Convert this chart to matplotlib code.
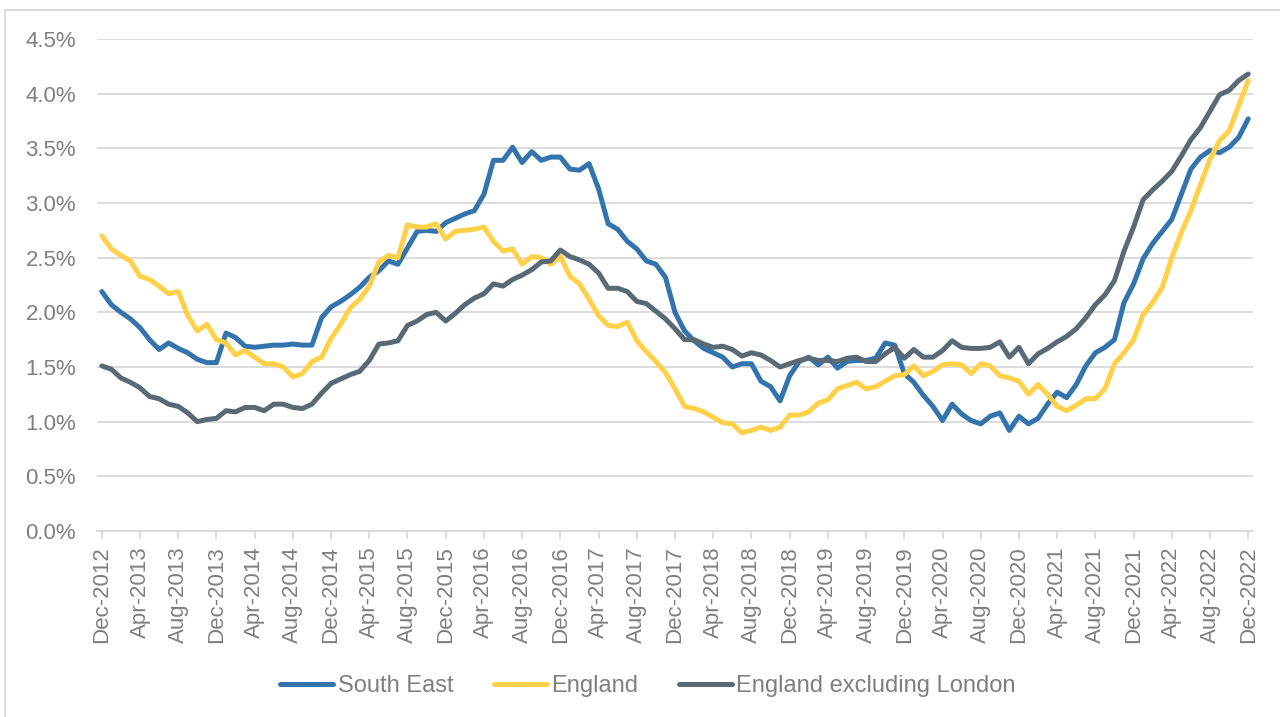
import matplotlib
matplotlib.use("Agg")
import matplotlib.pyplot as plt
from matplotlib.lines import Line2D
from matplotlib.ticker import FuncFormatter
import pandas as pd

plt.rcParams['font.family'] = ['Liberation Sans', 'DejaVu Sans']

# Monthly series, Dec 2012 to Dec 2022
months = pd.date_range('2012-12-01', '2022-12-01', freq='MS')

south_east = [
    2.19, 2.07, 2.00, 1.94, 1.86, 1.75, 1.66, 1.72, 1.67, 1.63, 1.57, 1.54,
    1.54, 1.81, 1.77, 1.69, 1.68, 1.69, 1.70, 1.70, 1.71, 1.70, 1.70, 1.95,
    2.05, 2.10, 2.16, 2.23, 2.32, 2.38, 2.47, 2.44, 2.59, 2.74, 2.75, 2.74,
    2.82, 2.86, 2.90, 2.93, 3.08, 3.39, 3.39, 3.51, 3.37, 3.47, 3.39, 3.42,
    3.42, 3.31, 3.30, 3.36, 3.13, 2.81, 2.76, 2.65, 2.58, 2.47, 2.44, 2.32,
    2.00, 1.83, 1.74, 1.67, 1.63, 1.59, 1.50, 1.53, 1.53, 1.37, 1.32, 1.19,
    1.42, 1.55, 1.59, 1.52, 1.59, 1.49, 1.55, 1.56, 1.56, 1.58, 1.72, 1.70,
    1.44, 1.36, 1.24, 1.14, 1.01, 1.16, 1.07, 1.01, 0.98, 1.05, 1.08, 0.92,
    1.05, 0.98, 1.03, 1.16, 1.27, 1.22, 1.34, 1.51, 1.63, 1.68, 1.75, 2.09,
    2.26, 2.49, 2.63, 2.74, 2.85, 3.08, 3.31, 3.42, 3.48, 3.46, 3.51, 3.60,
    3.77,
]

england = [
    2.70, 2.58, 2.52, 2.47, 2.33, 2.30, 2.24, 2.17, 2.19, 1.97, 1.83, 1.89,
    1.75, 1.72, 1.61, 1.65, 1.59, 1.53, 1.53, 1.50, 1.41, 1.44, 1.55, 1.59,
    1.76, 1.89, 2.04, 2.12, 2.24, 2.46, 2.52, 2.50, 2.80, 2.78, 2.78, 2.81,
    2.67, 2.74, 2.75, 2.76, 2.78, 2.65, 2.56, 2.58, 2.44, 2.51, 2.50, 2.44,
    2.51, 2.33, 2.26, 2.12, 1.97, 1.88, 1.87, 1.91, 1.74, 1.64, 1.55, 1.45,
    1.30, 1.14, 1.12, 1.09, 1.04, 0.99, 0.98, 0.90, 0.92, 0.95, 0.92, 0.95,
    1.06, 1.06, 1.09, 1.17, 1.20, 1.30, 1.33, 1.36, 1.30, 1.32, 1.37, 1.42,
    1.43, 1.51, 1.42, 1.46, 1.52, 1.53, 1.52, 1.44, 1.53, 1.51, 1.42, 1.40,
    1.37, 1.25, 1.34, 1.25, 1.14, 1.10, 1.15, 1.21, 1.21, 1.30, 1.53, 1.63,
    1.75, 1.98, 2.09, 2.23, 2.50, 2.73, 2.93, 3.17, 3.40, 3.57, 3.66, 3.89,
    4.12,
]

england_ex_london = [
    1.51, 1.48, 1.40, 1.36, 1.31, 1.23, 1.21, 1.16, 1.14, 1.08, 1.00, 1.02,
    1.03, 1.10, 1.09, 1.13, 1.13, 1.10, 1.16, 1.16, 1.13, 1.12, 1.16, 1.26,
    1.35, 1.39, 1.43, 1.46, 1.56, 1.71, 1.72, 1.74, 1.88, 1.92, 1.98, 2.00,
    1.92, 1.99, 2.07, 2.13, 2.17, 2.26, 2.24, 2.30, 2.34, 2.39, 2.46, 2.47,
    2.57, 2.51, 2.48, 2.44, 2.36, 2.22, 2.22, 2.19, 2.10, 2.08, 2.01, 1.94,
    1.85, 1.75, 1.75, 1.71, 1.68, 1.69, 1.66, 1.60, 1.63, 1.61, 1.56, 1.50,
    1.53, 1.56, 1.58, 1.56, 1.56, 1.55, 1.58, 1.59, 1.55, 1.55, 1.62, 1.68,
    1.58, 1.66, 1.59, 1.59, 1.65, 1.74, 1.68, 1.67, 1.67, 1.68, 1.73, 1.59,
    1.68, 1.53, 1.62, 1.67, 1.73, 1.78, 1.85, 1.95, 2.07, 2.16, 2.29, 2.56,
    2.78, 3.03, 3.12, 3.20, 3.29, 3.43, 3.58, 3.69, 3.84, 3.99, 4.03, 4.12,
    4.18,
]

labels = ['South East', 'England', 'England excluding London']
colors = ['#3474AD', '#FFD048', '#5A6A74']
grey_text = '#7F7F7F'
grid_col = '#D9D9D9'

fig = plt.figure(figsize=(12.8, 7.17), dpi=100)
ax = fig.add_axes([97 / 1280, 1 - 531 / 717, (1253 - 97) / 1280, (531 - 39) / 717])

x = list(range(len(months)))
for series, lab, col in zip([south_east, england, england_ex_london], labels, colors):
    ax.plot(x, series, color=col, lw=3.6, label=lab, solid_joinstyle='round',
            solid_capstyle='round')

ax.set_xlim(-0.5, len(months) - 0.5)
ax.set_ylim(0, 4.5)
ax.set_yticks([i * 0.5 for i in range(10)])
ax.yaxis.set_major_formatter(FuncFormatter(lambda v, p: f'{v:.1f}%'))
ax.grid(axis='y', color=grid_col, lw=1.3)
ax.set_axisbelow(True)

tick_pos = x[::4]
ax.set_xticks(tick_pos)
ax.set_xticklabels([months[i].strftime('%b-%Y') for i in tick_pos], rotation=90)

for s in ['top', 'right', 'left']:
    ax.spines[s].set_visible(False)
ax.spines['bottom'].set_color(grid_col)
ax.spines['bottom'].set_linewidth(1.3)
ax.tick_params(axis='y', length=0, pad=15, labelsize=16, labelcolor=grey_text)
ax.tick_params(axis='x', length=6, width=1.3, color=grid_col, pad=5,
               labelsize=16, labelcolor=grey_text)

fig.legend(loc='center', bbox_to_anchor=(648 / 1280, 1 - 686 / 717), ncol=3,
           frameon=False, fontsize=17, labelcolor=grey_text, handlelength=2.25,
           handletextpad=0.2, columnspacing=1.7)

# chart border (top and left edges visible)
fig.add_artist(Line2D([5 / 1280, 1], [1 - 10 / 717, 1 - 10 / 717], color=grid_col, lw=1.3))
fig.add_artist(Line2D([5 / 1280, 5 / 1280], [0, 1 - 10 / 717], color=grid_col, lw=1.3))

fig.savefig('out.png', dpi=100)
